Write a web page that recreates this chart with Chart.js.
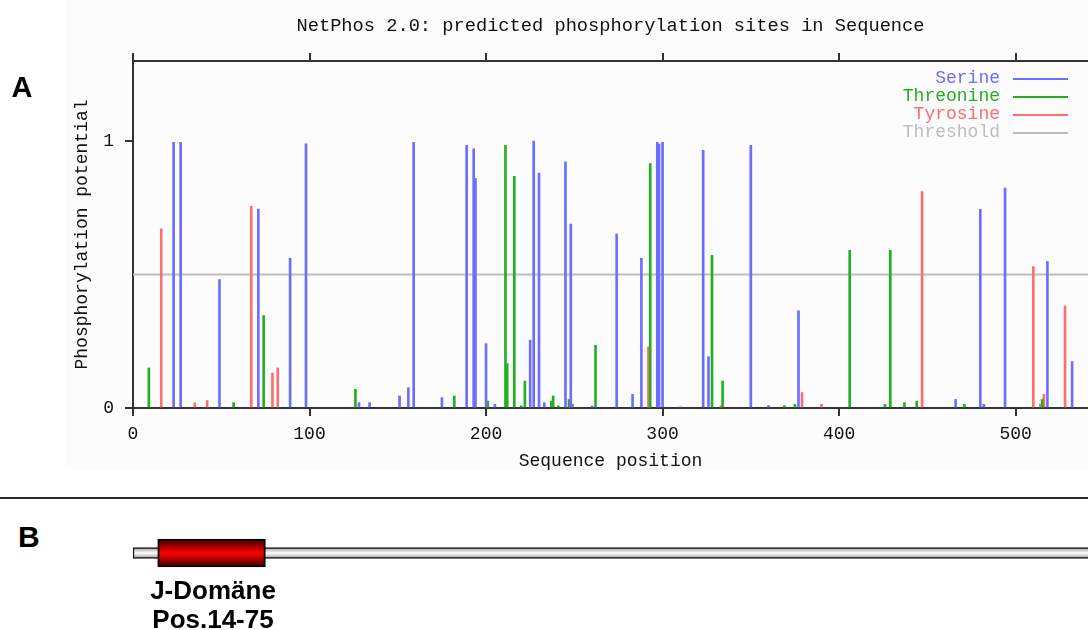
<!DOCTYPE html>
<html><head><meta charset="utf-8">
<script src="https://cdn.jsdelivr.net/npm/chart.js@4.4.1/dist/chart.umd.min.js"></script>
<style>
html,body{margin:0;padding:0;background:#fff;width:1088px;height:630px;overflow:hidden;}
body{position:relative;font-family:"Liberation Sans",Arial,sans-serif;}
#bg{position:absolute;left:65px;top:0;width:1023px;height:470px;background:#fcfcfc;}
#main{position:absolute;left:0;top:0;}
#dom{position:absolute;left:0;top:527px;}
#sep{position:absolute;left:0;top:497px;width:1088px;height:2px;background:#2a2a2a;}
.panel{position:absolute;font-weight:bold;color:#000;white-space:nowrap;}
#legend{position:absolute;right:20px;top:70.4px;font-family:"Liberation Mono",monospace;font-size:18px;}
.row{display:flex;align-items:center;justify-content:flex-end;height:17.8px;line-height:17.8px;}
.sw{width:55px;height:2px;margin-left:13px;}
#dlabel{position:absolute;left:113px;width:200px;top:575.5px;text-align:center;font-weight:bold;font-size:26px;line-height:29px;color:#000;}
</style></head>
<body>
<div id="bg"></div>
<canvas id="main" width="1088" height="497"></canvas>
<div id="legend"></div>
<div id="sep"></div>
<div class="panel" style="left:11.5px;top:72.5px;font-size:29px;line-height:29px;">A</div>
<div class="panel" style="left:18px;top:521.6px;font-size:30px;line-height:30px;">B</div>
<canvas id="dom" width="1088" height="52"></canvas>
<div id="dlabel"></div>
<script>
// ---- data ----
const titleText = 'NetPhos 2.0: predicted phosphorylation sites in Sequence';
const xTicks = [0, 100, 200, 300, 400, 500];
const yTicks = [0, 1];
const xMax = 541;
const yMax = 1.3;
const threshold = 0.5;

const serinePos = [23, 27, 49, 71, 89, 98, 128, 134, 151, 156, 159, 175, 189, 193, 194, 200, 205, 225, 227, 230, 233, 245, 248, 249, 260, 274, 283, 288, 297, 298, 300, 310, 323, 326, 350, 360, 377, 466, 480, 482, 494, 518, 532];
const serineVal = [0.995, 0.995, 0.481, 0.745, 0.561, 0.99, 0.02, 0.02, 0.045, 0.076, 0.995, 0.039, 0.984, 0.971, 0.86, 0.241, 0.014, 0.254, 1.0, 0.88, 0.02, 0.922, 0.689, 0.014, 0.008, 0.652, 0.051, 0.561, 0.995, 0.989, 0.995, 0.004, 0.965, 0.192, 0.984, 0.009, 0.364, 0.032, 0.744, 0.014, 0.824, 0.549, 0.174];

const threoninePos = [9, 57, 74, 126, 182, 201, 211, 212, 216, 220, 222, 237, 238, 241, 247, 262, 293, 328, 334, 369, 375, 406, 426, 429, 437, 444, 471, 515];
const threonineVal = [0.15, 0.02, 0.346, 0.07, 0.045, 0.026, 0.984, 0.166, 0.868, 0.008, 0.101, 0.026, 0.045, 0.008, 0.032, 0.235, 0.916, 0.572, 0.101, 0.009, 0.014, 0.591, 0.014, 0.591, 0.02, 0.026, 0.014, 0.032];

const tyrosinePos = [16, 35, 42, 67, 79, 82, 292, 333, 379, 390, 447, 510, 514, 516, 528];
const tyrosineVal = [0.671, 0.019, 0.028, 0.756, 0.131, 0.15, 0.229, 0.009, 0.058, 0.014, 0.811, 0.53, 0.014, 0.051, 0.382];

const seriesNames = ['Serine', 'Threonine', 'Tyrosine', 'Threshold'];
const seriesColors = ['#6d6dff', '#22b022', '#ff6e6e', '#bdbdbd'];

const domainName = 'J-Domäne';
const domainLabel = 'Pos.14-75';
const domainStart = 14;
const domainEnd = 75;
const proteinEnd = 545;

// ---- helpers ----
const toPts = (p, v) => p.map((x, i) => ({x: x, y: v[i]}));
const monoFont = {family: '"Liberation Mono", monospace', size: 18, lineHeight: 1.2, weight: 'normal'};
const titleFont = {family: '"Liberation Mono", monospace', size: 18.7, lineHeight: 1.2, weight: 'normal'};
const axisColor = '#333';
const setTicks = arr => s => { s.ticks = arr.map(v => ({value: v})); };

// legend
const lg = document.getElementById('legend');
seriesNames.forEach((n, i) => {
  const r = document.createElement('div'); r.className = 'row';
  const t = document.createElement('span'); t.textContent = n; t.style.color = seriesColors[i];
  const s = document.createElement('span'); s.className = 'sw'; s.style.background = seriesColors[i];
  r.appendChild(t); r.appendChild(s); lg.appendChild(r);
});
document.getElementById('dlabel').innerHTML = domainName + '<br>' + domainLabel;

const barDs = (i, pos, val) => ({
  label: seriesNames[i], data: toPts(pos, val), backgroundColor: seriesColors[i],
  borderWidth: 0, barThickness: 2, grouped: false, order: 1
});

const gridOpts = {drawOnChartArea: false, drawTicks: true, tickLength: 8, color: axisColor, lineWidth: 2, offset: false};
const borderOpts = {display: true, color: axisColor, width: 2};

new Chart(document.getElementById('main'), {
  type: 'bar',
  data: {datasets: [
    barDs(0, serinePos, serineVal),
    barDs(1, threoninePos, threonineVal),
    barDs(2, tyrosinePos, tyrosineVal),
    {type: 'line', label: seriesNames[3], data: [{x: 0, y: threshold}, {x: xMax, y: threshold}],
     borderColor: seriesColors[3], borderWidth: 2, pointRadius: 0, order: 5}
  ]},
  options: {
    responsive: false, animation: false, devicePixelRatio: 1,
    layout: {padding: 0},
    plugins: {
      legend: {display: false}, tooltip: {enabled: false},
      title: {display: true, fullSize: false, text: titleText, color: '#111', font: titleFont, padding: {top: 15, bottom: 0}}
    },
    scales: {
      x: {type: 'linear', position: 'bottom', min: 0, max: xMax, offset: false,
          afterBuildTicks: setTicks(xTicks), afterFit: s => { s.height = 89; },
          grid: gridOpts, border: borderOpts,
          ticks: {color: '#111', font: monoFont, padding: 7, maxRotation: 0, autoSkip: false},
          title: {display: true, text: 'Sequence position', color: '#111', font: monoFont, padding: {top: 0, bottom: 25}}},
      x2: {type: 'linear', position: 'top', min: 0, max: xMax, offset: false,
           afterBuildTicks: setTicks(xTicks), afterFit: s => { s.height = 61 - 15 - 18.7 * 1.2; },
           grid: gridOpts, border: borderOpts, ticks: {display: false}},
      y: {type: 'linear', position: 'left', min: 0, max: yMax,
          afterBuildTicks: setTicks(yTicks), afterFit: s => { s.width = 133; },
          grid: gridOpts, border: borderOpts,
          ticks: {color: '#111', font: monoFont, padding: 11},
          title: {display: true, text: 'Phosphorylation potential', color: '#111', font: monoFont, padding: {top: 71, bottom: 0}}}
    }
  }
});

// ---- domain diagram ----
function grad(c, h, stops) {
  const ch = c.chart, a = ch.chartArea;
  if (!a) return stops[1];
  const cy = (a.top + a.bottom) / 2;
  const g = ch.ctx.createLinearGradient(0, cy - h / 2, 0, cy + h / 2);
  g.addColorStop(0, stops[0]); g.addColorStop(0.5, stops[1]); g.addColorStop(1, stops[0]);
  return g;
}
new Chart(document.getElementById('dom'), {
  type: 'bar',
  data: {labels: ['Protein'], datasets: [
    {label: domainName, data: [[domainStart, domainEnd]], barThickness: 28, grouped: false, order: 0,
     backgroundColor: c => grad(c, 28, ['#3a0000', '#ff0000']), borderColor: '#000', borderWidth: 2, borderSkipped: false},
    {label: 'Protein', data: [[0, proteinEnd]], barThickness: 11, grouped: false, order: 1,
     backgroundColor: c => grad(c, 11, ['#9a9a9a', '#ffffff']), borderColor: '#111', borderWidth: 1.5, borderSkipped: false}
  ]},
  options: {
    indexAxis: 'y', responsive: false, animation: false, devicePixelRatio: 1,
    layout: {padding: {left: 133, right: 0, top: 0, bottom: 0}},
    plugins: {legend: {display: false}, tooltip: {enabled: false}},
    scales: {
      x: {type: 'linear', min: 0, max: xMax, display: false},
      y: {display: false, offset: true}
    }
  }
});
</script>
</body></html>
